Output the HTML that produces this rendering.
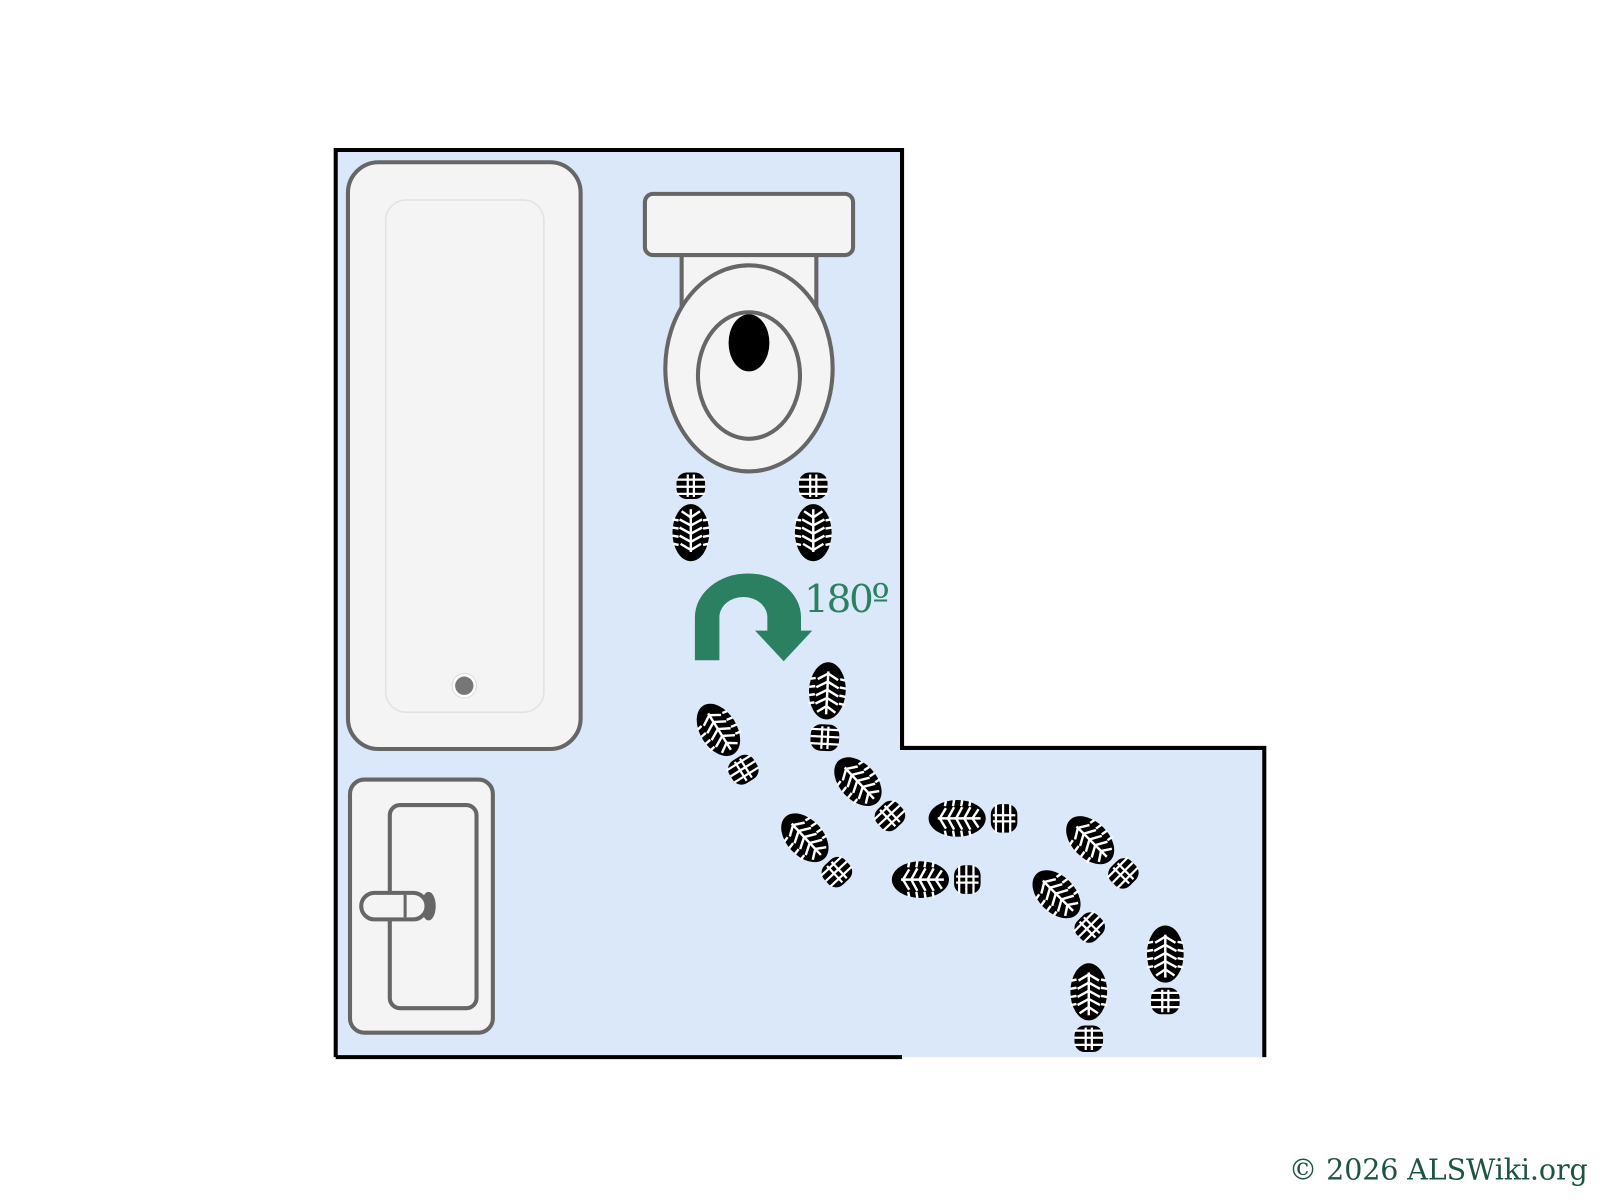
<!DOCTYPE html>
<html><head><style>html,body{margin:0;padding:0;background:#fff}svg{display:block}</style></head>
<body>
<svg width="1600" height="1200" viewBox="0 0 1568 1176" xmlns="http://www.w3.org/2000/svg">
<defs>
<g id="fp">
  <rect x="-14" y="-44" width="28" height="26" rx="10" fill="#000"/>
  <g stroke="#fff" stroke-width="2.2">
    <line x1="-14" y1="-37" x2="14" y2="-37"/>
    <line x1="-14" y1="-30" x2="14" y2="-30"/>
    <line x1="-14" y1="-23" x2="14" y2="-23"/>
    <line x1="-3" y1="-42" x2="-3" y2="-20"/>
    <line x1="3" y1="-42" x2="3" y2="-20"/>
  </g>
  <ellipse cx="0" cy="15" rx="18" ry="28" fill="#000"/>
  <g stroke="#fff" stroke-width="2.4" fill="none">
    <line x1="0" y1="-8" x2="0" y2="34"/>
    <polyline points="-9,-6 0,0 9,-6"/>
    <polyline points="-11,2 0,8 11,2"/>
    <polyline points="-11,10 0,16 11,10"/>
    <polyline points="-11,18 0,24 11,18"/>
    <polyline points="-10,26 0,32 10,26"/>
    <line x1="-18" y1="2" x2="-12" y2="3"/>
    <line x1="-18" y1="10" x2="-12" y2="11"/>
    <line x1="-18" y1="18" x2="-12" y2="19"/>
    <line x1="-17" y1="26" x2="-12" y2="27"/>
    <line x1="18" y1="2" x2="12" y2="3"/>
    <line x1="18" y1="10" x2="12" y2="11"/>
    <line x1="18" y1="18" x2="12" y2="19"/>
    <line x1="17" y1="26" x2="12" y2="27"/>
  </g>
</g>
</defs>
<path d="M329,147 H884 V733 H1239 V1036 H329 Z" fill="#dae8fa"/>
<path d="M329,1036 V147 H884 V733 H1239 V1036" fill="none" stroke="#000" stroke-width="4"/>
<line x1="329" y1="1036" x2="884" y2="1036" stroke="#000" stroke-width="4"/>
<rect x="341" y="159" width="228" height="575" rx="30" fill="#f4f4f4" stroke="#666" stroke-width="4"/>
<rect x="378" y="196" width="155" height="502" rx="20" fill="none" stroke="#e2e2e2" stroke-width="1.5"/>
<circle cx="455" cy="672" r="12" fill="#fff" stroke="#ddd"/>
<circle cx="455" cy="672" r="9" fill="#777"/>
<rect x="668" y="240" width="132" height="62" fill="#f4f4f4" stroke="#666" stroke-width="4"/>
<rect x="632" y="190" width="204" height="60" rx="8" fill="#f4f4f4" stroke="#666" stroke-width="4"/>
<ellipse cx="734" cy="361" rx="82" ry="101" fill="#f4f4f4" stroke="#666" stroke-width="4"/>
<ellipse cx="734" cy="368" rx="50" ry="62" fill="#f4f4f4" stroke="#666" stroke-width="4"/>
<ellipse cx="734" cy="336" rx="20" ry="28" fill="#000"/>
<rect x="343" y="764" width="140" height="248" rx="14" fill="#f4f4f4" stroke="#666" stroke-width="4"/>
<rect x="382" y="789" width="85" height="199" rx="10" fill="#f4f4f4" stroke="#666" stroke-width="4"/>
<ellipse cx="420" cy="888" rx="7" ry="14" fill="#666"/>
<rect x="354" y="875" width="64" height="26" rx="13" fill="#f4f4f4" stroke="#666" stroke-width="4"/>
<line x1="397" y1="877" x2="397" y2="899" stroke="#666" stroke-width="3"/>
<path d="M681,647 V605 A52,43 0 0 1 785,605 V620 H752 V605 A23.5,20 0 0 0 705,605 V647 Z" fill="#2a8060"/>
<path d="M740,618 H796 L768,648 Z" fill="#2a8060"/>
<text x="788" y="600" font-family="DejaVu Serif, serif" font-size="38" fill="#2a8060" textLength="84">180º</text>
<use href="#fp" transform="translate(677,507)"/>
<use href="#fp" transform="translate(797,507)"/>
<use href="#fp" transform="translate(810,692) rotate(183)"/>
<use href="#fp" transform="translate(712,728) rotate(148)"/>
<use href="#fp" transform="translate(851,777) rotate(137)"/>
<use href="#fp" transform="translate(799,832) rotate(137)"/>
<use href="#fp" transform="translate(953,802) rotate(90)"/>
<use href="#fp" transform="translate(917,862) rotate(90)"/>
<use href="#fp" transform="translate(1079,834) rotate(135)"/>
<use href="#fp" transform="translate(1046,887) rotate(135)"/>
<use href="#fp" transform="translate(1067,987) rotate(180)"/>
<use href="#fp" transform="translate(1142,950) rotate(180)"/>
<text x="1263" y="1156" font-family="DejaVu Serif, serif" font-size="28" fill="#1d5540" textLength="293">© 2026 ALSWiki.org</text>
</svg>
</body></html>
